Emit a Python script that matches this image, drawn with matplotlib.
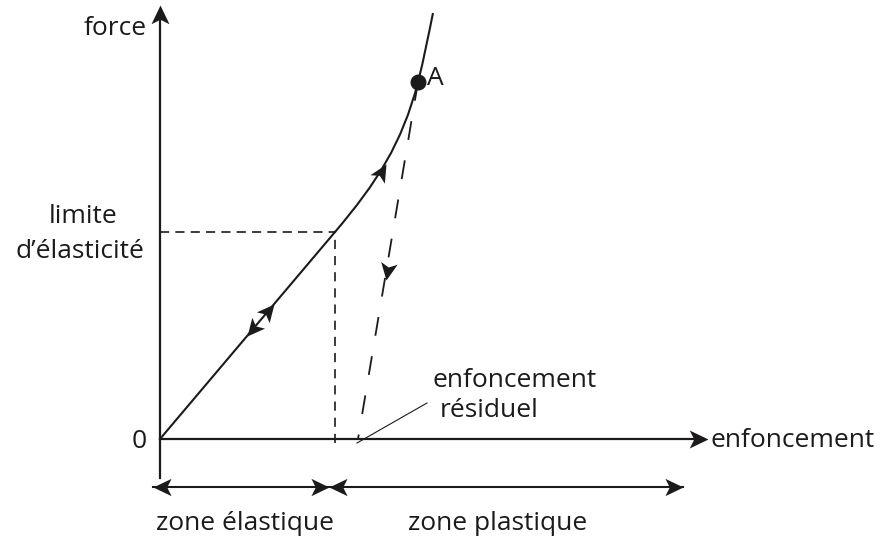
import matplotlib
matplotlib.use("Agg")
import matplotlib.pyplot as plt
from matplotlib.path import Path
from matplotlib.patches import PathPatch
from matplotlib.markers import MarkerStyle
from matplotlib.transforms import Affine2D
import numpy as np

plt.rcParams['font.family'] = ['Open Sans', 'DejaVu Sans']

# schematic values (enfoncement, force), origin at 0
elastic_limit = (175, 207)
point_a = (258, 357)
curve_top = (273, 426)
residual = (198, 0)
x_axis_end = 548
y_axis_end = 434
y_axis_start = -39
zone_y = -48
zone_bounds = [-7, 169, 523]

# Bezier control points of the plastic part of the curve
curve_ctrl = [
    (216.6, 256.1), (242.0, 295.1), point_a,
    (263.7, 379.3), (268.4, 403.5), curve_top,
]
# arrows along the path: (x, y, direction in degrees)
curve_arrow = (226, 275, 59.5)
unload_arrow = (226, 159)
elastic_arrows = [114, 87]

fig = plt.figure(figsize=(8.8, 5.42), dpi=100)
ax = fig.add_axes([0, 0, 1, 1])
ax.set_xlim(-160, 720)
ax.set_ylim(-103, 439)
ax.axis('off')

ink = '#1c1a1b'

# stealth arrow head, tip at origin, pointing to +x
head = Path([(0, 0), (-1, 0.48), (-0.76, 0), (-1, -0.48), (0, 0)],
            [Path.MOVETO, Path.LINETO, Path.LINETO, Path.LINETO, Path.CLOSEPOLY])


def arrow_head(x, y, angle, size=25):
    m = MarkerStyle(head, transform=Affine2D().rotate_deg(angle))
    ax.plot([x], [y], marker=m, markersize=size, color=ink,
            markeredgewidth=0, zorder=5)


lw = 1.6
# axes
ax.plot([0, x_axis_end - 6], [0, 0], color=ink, lw=lw)
ax.plot([0, 0], [y_axis_start, y_axis_end - 6], color=ink, lw=lw)
arrow_head(x_axis_end, 0, 0, 27)
arrow_head(0, y_axis_end, 90, 27)

# elastic part
ax.plot([0, elastic_limit[0]], [0, elastic_limit[1]], color=ink, lw=1.5)
slope = elastic_limit[1] / elastic_limit[0]
ang = np.degrees(np.arctan(slope))
arrow_head(elastic_arrows[0], elastic_arrows[0] * slope, ang)
arrow_head(elastic_arrows[1], elastic_arrows[1] * slope, ang + 180)

# plastic part
verts = [elastic_limit] + curve_ctrl
codes = [Path.MOVETO] + [Path.CURVE4] * len(curve_ctrl)
ax.add_patch(PathPatch(Path(verts, codes), fill=False, color=ink, lw=1.5))
arrow_head(*curve_arrow)

# guide dashed lines
ax.plot([0, elastic_limit[0]], [elastic_limit[1]] * 2, color=ink,
        lw=1.2, dashes=(5.5, 3.7))
ax.plot([elastic_limit[0]] * 2, [-4, elastic_limit[1]], color=ink,
        lw=1.2, dashes=(5.5, 4.2))

# unloading
ax.plot([point_a[0], residual[0]], [point_a[1], residual[1]], color=ink,
        lw=1.3, dashes=(10.5, 11.5))
ang_u = np.degrees(np.arctan2(residual[1] - point_a[1], residual[0] - point_a[0]))
arrow_head(unload_arrow[0], unload_arrow[1], ang_u)
ax.plot([point_a[0]], [point_a[1]], 'o', color=ink, markersize=10.5)

# leader
ax.plot([residual[0] - 1, 267], [-4, 36], color=ink, lw=0.8)

# zones
ax.plot([zone_bounds[0], zone_bounds[2]], [zone_y, zone_y], color=ink, lw=1.5)
arrow_head(zone_bounds[0], zone_y, 180, 26)
arrow_head(zone_bounds[1], zone_y, 0, 26)
arrow_head(zone_bounds[1], zone_y, 180, 26)
arrow_head(zone_bounds[2], zone_y, 0, 26)

fs = 19
kw = dict(fontsize=fs, color=ink, va='baseline')
ax.text(-13, 404, 'force', ha='right', **kw)
ax.text(-77, 216, 'limite', ha='center', **kw)
ax.text(-80, 181, 'd\u2019élasticité', ha='center', **kw)
ax.text(-21, -9, '0', ha='center', **kw)
ax.text(550, -8, 'enfoncement', ha='left', **kw)
ax.text(273, 52, 'enfoncement', ha='left', **kw)
ax.text(280, 22, 'résiduel', ha='left', **kw)
ax.text(267, 354, 'A', ha='left', **kw)
ax.text(85, -91, 'zone élastique', ha='center', **kw)
ax.text(338, -91, 'zone plastique', ha='center', **kw)

fig.savefig('out.png', dpi=100)
